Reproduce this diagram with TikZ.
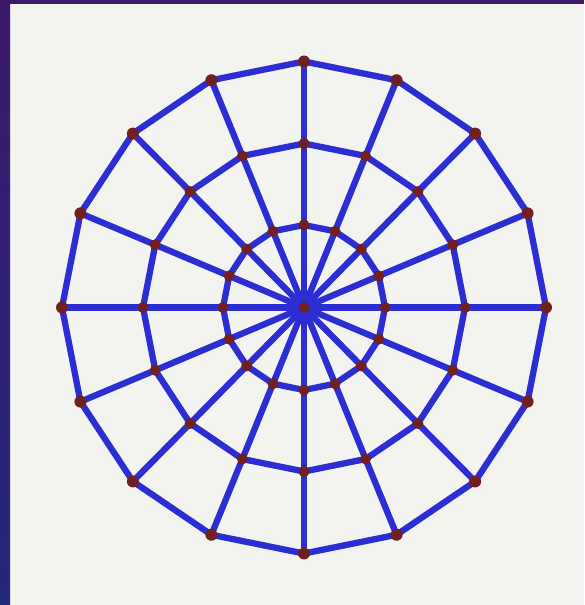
\documentclass[tikz,border=0pt]{standalone}
\definecolor{panel}{HTML}{F3F3EF}
\definecolor{webblue}{HTML}{2D2DD4}
\definecolor{knotred}{HTML}{702020}
\definecolor{framepurple}{HTML}{3D1A6C}
\definecolor{frameblue}{HTML}{24287F}
\pgfdeclarelayer{bg}
\pgfdeclarelayer{edges}
\pgfsetlayers{bg,edges,main}
\begin{document}
\begin{tikzpicture}[x=1pt,y=1pt,
  knot/.style={circle,fill=knotred,inner sep=0pt,minimum size=11pt},
  webline/.style={draw=webblue,line width=6.3pt,line cap=round}]
\useasboundingbox (0,0) rectangle (584,605);
\begin{pgfonlayer}{bg}
  \fill[panel] (0,0) rectangle (584,605);
  \shade[top color=framepurple,bottom color=frameblue] (0,0) rectangle (10,605);
  \fill[framepurple] (0,601) rectangle (584,605);
\end{pgfonlayer}
\coordinate (C) at (304,297.5);
\node[knot] (c) at (C) {};
\foreach \i in {0,...,15}{
  \node[knot] (i\i) at ([shift={(90-\i*22.5:81 and 82.5)}]C) {};
  \node[knot] (m\i) at ([shift={(90-\i*22.5:161 and 164)}]C) {};
  \node[knot,minimum size=12pt] (o\i) at ([shift={(90-\i*22.5:242 and 246)}]C) {};
}
\begin{pgfonlayer}{edges}
\foreach \i in {0,...,15}{
  \pgfmathtruncatemacro\j{mod(\i+1,16)}
  \draw[webline] (c.center) -- (i\i.center) -- (m\i.center) -- (o\i.center);
  \draw[webline] (i\i.center) -- (i\j.center);
  \draw[webline] (m\i.center) -- (m\j.center);
  \draw[webline] (o\i.center) -- (o\j.center);
}
\end{pgfonlayer}
\end{tikzpicture}
\end{document}
